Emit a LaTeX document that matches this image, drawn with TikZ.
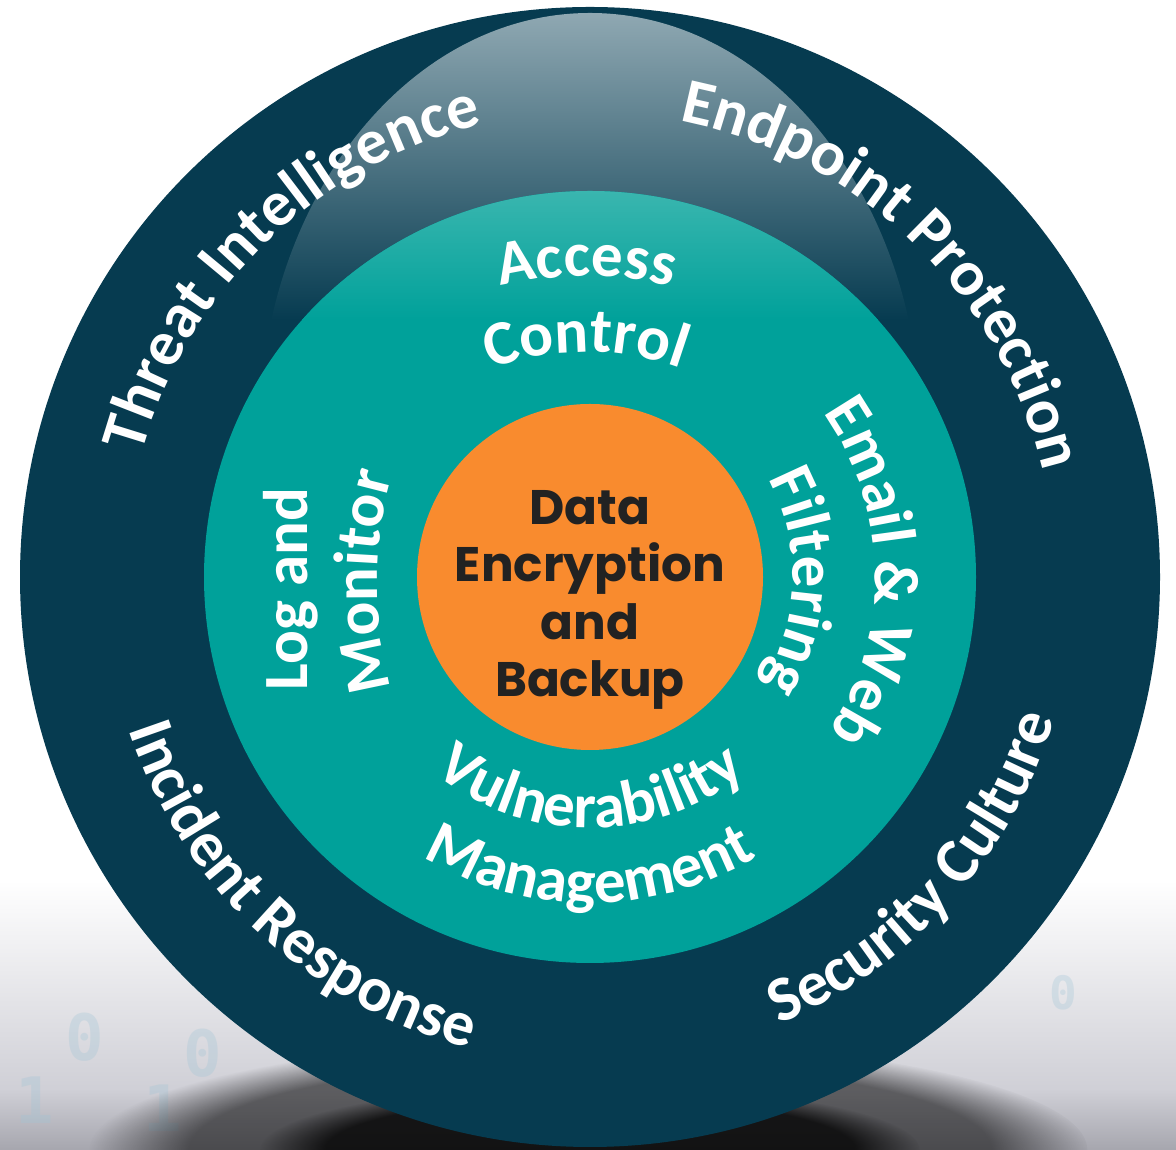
\documentclass[tikz,border=0pt]{standalone}
\usepackage{fontspec}
\usetikzlibrary{calc,decorations.text,fadings}

\newfontfamily\bannerfont{Carlito}
\newfontfamily\corefont{Poppins}
\newfontfamily\digitfont{DejaVu Sans Mono}

\definecolor{ringnavy}{HTML}{063B50}
\definecolor{glosstop}{HTML}{8FA8B2}
\definecolor{ringteal}{HTML}{00A19A}
\definecolor{tealtop}{HTML}{3AB6AF}
\definecolor{coreorange}{HTML}{F98B2E}
\definecolor{coreink}{HTML}{222222}
\definecolor{floorgray}{HTML}{CFCFD6}
\definecolor{floordark}{HTML}{A6A6AE}
\definecolor{digitblue}{HTML}{9FC4D6}

% white lettering bent along a circular arc
% #1 centre, #2 radius, #3 start angle, #4 end angle, #5 size, #6 text
\newcommand\ringtext[6]{%
  \path[decorate, decoration={text along path, text align=center,
      text={|\bannerfont\bfseries\fontsize{#5}{#5}\selectfont\color{white}|#6}}]
    ($(#1)+(#3:#2)$) arc[start angle=#3, end angle=#4, radius=#2];}

\tikzset{
  disc/.style={circle, inner sep=0pt, outer sep=0pt},
  coretext/.style={font=\corefont\bfseries\fontsize{48.5}{48.5}\selectfont,
    text=coreink, inner sep=0pt, anchor=base},
  bannertext/.style={font=\bannerfont\bfseries\fontsize{63}{63}\selectfont,
    text=white, inner sep=0pt},
  digit/.style={font=\digitfont\bfseries\fontsize{64}{64}\selectfont,
    text=digitblue, opacity=0.3, inner sep=0pt}
}

\begin{document}
\begin{tikzpicture}[x=1pt,y=1pt]
\useasboundingbox (0,0) rectangle (1176,1150);

% backdrop and grey floor
\fill[white] (0,0) rectangle (1176,1150);
\shade[top color=white, bottom color=floorgray] (0,59) rectangle (1176,270);
\shade[top color=floorgray, bottom color=floordark] (0,0) rectangle (1176,60);

% faint binary digits on the floor
\node[digit] (da) at (85,113) {0};
\node[digit] (db) at (203,97) {0};
\node[digit] (dc) at (35,50) {1};
\node[digit] (dd) at (163,42) {1};
\node[digit, font=\digitfont\bfseries\fontsize{46}{46}\selectfont] (de) at (1063,157) {0};

% soft shadow under the disc
\fill[black, path fading=circle with fuzzy edge 20 percent, fill opacity=0.55]
  (590,0) ellipse (500 and 110);
\fill[black, path fading=circle with fuzzy edge 20 percent, fill opacity=0.75]
  (590,0) ellipse (330 and 65);

\coordinate (C) at (590,573);
\coordinate (Carch) at (586,519);
\coordinate (Cmon) at (767,568);

% outer navy ring
\node[disc, fill=ringnavy, minimum size=1140pt] (outer) at (C) {};

% glossy highlight on the upper ring
\begin{scope}
  \clip (590,716) ellipse (331 and 421);
  \shade[top color=glosstop, bottom color=ringnavy] (250,1137) rectangle (930,830);
\end{scope}

% teal ring with a lighter crown
\node[disc, fill=ringteal, minimum size=772pt] (middle) at (C) {};
\begin{scope}
  \clip (C) circle (386);
  \shade[top color=tealtop, bottom color=ringteal] (200,960) rectangle (980,830);
\end{scope}

% orange core
\node[disc, fill=coreorange, minimum size=346pt] (core) at (C) {};
\node[coretext] (coreA) at (590,625) {Data};
\node[coretext] (coreB) at (590,568) {Encryption};
\node[coretext] (coreC) at (590,510) {and};
\node[coretext] (coreD) at (590,453) {Backup};

% outer ring labels
\ringtext{C}{465}{184}{84}{64}{Threat Intelligence}
\ringtext{C}{465}{96}{-4}{64}{Endpoint Protection}
\ringtext{C}{486}{177}{277}{64}{Incident Response}
\ringtext{C}{486}{268}{368}{64}{Security Culture}

% teal ring labels
\ringtext{Carch}{355}{130}{50}{63}{Access}
\ringtext{Carch}{279}{135}{45}{63}{Control}
\ringtext{C}{285}{51}{-49}{63}{Email {\&} Web}
\ringtext{C}{203}{43.5}{-46.5}{63}{Filtering}
\ringtext{C}{251}{200}{340}{63}{Vulnerability}
\ringtext{C}{326}{215}{325}{63}{Management}
\ringtext{Cmon}{390}{210}{150}{63}{Monitor}
\node[bannertext, rotate=90, anchor=base] (logand) at (307,561) {Log and};

\end{tikzpicture}
\end{document}
